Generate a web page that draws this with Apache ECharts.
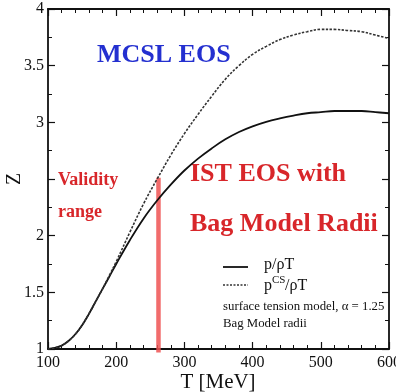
<!DOCTYPE html>
<html>
<head>
<meta charset="utf-8">
<script src="https://cdn.jsdelivr.net/npm/echarts@6/dist/echarts.min.js"></script>
<style>
  html, body { margin: 0; padding: 0; background: #fff; }
  #chart { width: 396px; height: 392px; }
</style>
</head>
<body>
<div id="chart"></div>
<script>
// temperatures (MeV)
const temps = [100, 110, 120, 130, 140, 150, 160, 170, 180, 190, 200, 220, 240, 260, 280, 300,
  320, 340, 360, 380, 400, 420, 440, 460, 480, 500, 520, 540, 560, 580, 600];
// p / rho T
const zIst = [1.00, 1.01, 1.03, 1.07, 1.13, 1.21, 1.31, 1.42, 1.53, 1.64, 1.75, 1.96, 2.15, 2.31, 2.45, 2.575,
  2.68, 2.77, 2.85, 2.915, 2.965, 3.005, 3.035, 3.06, 3.08, 3.09, 3.10, 3.10, 3.10, 3.09, 3.08];
// p^CS / rho T
const zCs = [1.00, 1.01, 1.03, 1.07, 1.13, 1.21, 1.31, 1.42, 1.53, 1.65, 1.77, 2.03, 2.28, 2.50, 2.71, 2.90,
  3.07, 3.23, 3.38, 3.50, 3.60, 3.67, 3.73, 3.77, 3.80, 3.82, 3.82, 3.81, 3.80, 3.77, 3.74];
// validity limit
const validityT = [262, 262];
const validityZ = [0.97, 2.51];

const yTickLabels = { '1': '1', '1.5': '1.5', '2': '2', '2.5': '', '3': '3', '3.5': '3.5', '4': '4' };

const serif = '"Liberation Serif", "DejaVu Serif", serif';
const red = '#d8262a';

const chart = echarts.init(document.getElementById('chart'));

function ticks(minorSplit) {
  return {
    axisLine: { show: true, onZero: false, lineStyle: { color: '#111', width: 1.8 } },
    axisTick: { show: true, inside: true, length: 7, lineStyle: { color: '#111', width: 1.2 } },
    minorTick: { show: true, splitNumber: minorSplit, length: 4, lineStyle: { color: '#111', width: 1 } },
    splitLine: { show: false },
    minorSplitLine: { show: false }
  };
}

function xAxis(pos, extra) {
  return Object.assign({ type: 'value', min: 100, max: 600, interval: 100, position: pos }, ticks(5), extra);
}
function yAxis(pos, extra) {
  return Object.assign({ type: 'value', min: 1, max: 4, interval: 0.5, position: pos }, ticks(2), extra);
}

chart.setOption({
  animation: false,
  // keep the grid fixed: no shrinking to fit labels
  grid: { left: 48, right: 7, top: 9, bottom: 43, containLabel: false, outerBoundsMode: 'none' },
  xAxis: [
    xAxis('bottom', {
      axisLabel: { fontFamily: serif, fontSize: 16, color: '#111', margin: 6 }
    }),
    xAxis('top', { axisLabel: { show: false } })
  ],
  yAxis: [
    yAxis('left', {
      axisLabel: {
        fontFamily: serif, fontSize: 16, color: '#111', margin: 4,
        formatter: v => yTickLabels[String(v)] ?? String(v)
      }
    }),
    yAxis('right', { axisLabel: { show: false } })
  ],
  series: [
    {
      name: 'p/ρT', type: 'line', symbol: 'none', smooth: 0.4,
      data: temps.map((t, i) => [t, zIst[i]]),
      lineStyle: { color: '#111', width: 1.8 }
    },
    {
      name: 'pCS/ρT', type: 'line', symbol: 'none', smooth: 0.4,
      data: temps.map((t, i) => [t, zCs[i]]),
      lineStyle: { color: '#333', width: 1.6, type: [2.5, 1.5] }
    },
    {
      name: 'validity', type: 'line', symbol: 'none', clip: false,
      data: validityT.map((t, i) => [t, validityZ[i]]),
      lineStyle: { color: 'rgba(238,82,82,0.85)', width: 4.5 },
      z: 1
    }
  ],
  graphic: [
    // axis titles
    { type: 'text', x: 15, y: 179, rotation: Math.PI / 2,
      style: { text: 'Z', font: '20px ' + serif, fill: '#111', align: 'center', verticalAlign: 'middle' } },
    { type: 'text', x: 218, y: 382,
      style: { text: 'T [MeV]', font: '21px ' + serif, fill: '#111', align: 'center', verticalAlign: 'middle' } },
    // annotations
    { type: 'text', left: 97, top: 42, style: { text: 'MCSL EOS', font: 'bold 26px ' + serif, fill: '#2430d0' } },
    { type: 'text', left: 58, top: 171, style: { text: 'Validity', font: 'bold 18px ' + serif, fill: red } },
    { type: 'text', left: 58, top: 203, style: { text: 'range', font: 'bold 18px ' + serif, fill: red } },
    { type: 'text', left: 190, top: 161, style: { text: 'IST EOS with', font: 'bold 26px ' + serif, fill: red } },
    { type: 'text', left: 190, top: 211, style: { text: 'Bag Model Radii', font: 'bold 26px ' + serif, fill: red } },
    // legend
    { type: 'line', shape: { x1: 223, y1: 267, x2: 248, y2: 267 }, style: { stroke: '#111', lineWidth: 1.8 } },
    { type: 'line', shape: { x1: 223, y1: 285, x2: 248, y2: 285 }, style: { stroke: '#333', lineWidth: 1.5, lineDash: [2, 1.5] } },
    { type: 'text', left: 264, top: 257, style: { text: 'p/ρT', font: '16px ' + serif, fill: '#111' } },
    { type: 'text', left: 264, top: 278, style: { text: 'p', font: '16px ' + serif, fill: '#111' } },
    { type: 'text', left: 272, top: 275, style: { text: 'CS', font: '11px ' + serif, fill: '#111' } },
    { type: 'text', left: 285, top: 278, style: { text: '/ρT', font: '16px ' + serif, fill: '#111' } },
    { type: 'text', left: 223, top: 300, style: { text: 'surface tension model, α = 1.25', font: '12.8px ' + serif, fill: '#111' } },
    { type: 'text', left: 223, top: 317, style: { text: 'Bag Model radii', font: '12.8px ' + serif, fill: '#111' } }
  ]
});
</script>
</body>
</html>
